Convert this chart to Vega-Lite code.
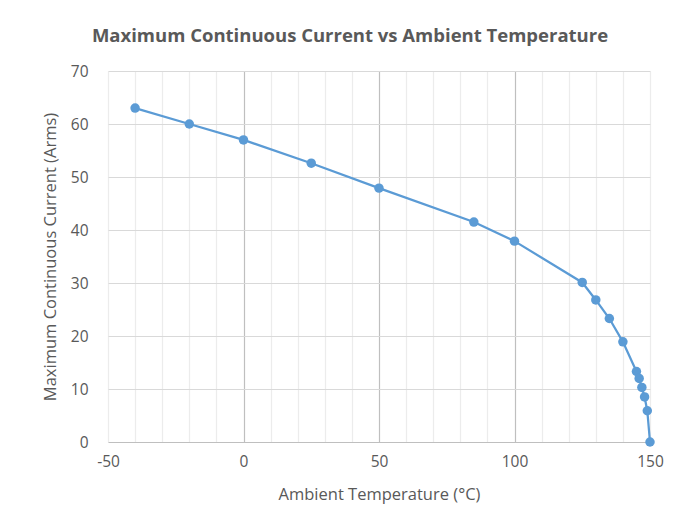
{
  "$schema": "https://vega.github.io/schema/vega-lite/v6.json",
  "width": 542,
  "height": 371,
  "autosize": {"type": "none"},
  "padding": {"left": 108, "top": 71, "right": 36, "bottom": 89},
  "background": "white",
  "title": {
    "text": "Maximum Continuous Current vs Ambient Temperature",
    "font": "Open Sans",
    "fontSize": 18.5,
    "fontWeight": "bold",
    "color": "#595959",
    "anchor": "middle",
    "dx": -29,
    "offset": 19
  },
  "config": {
    "view": {"stroke": null},
    "axis": {
      "labelFont": "Open Sans",
      "titleFont": "Open Sans",
      "labelColor": "#595959",
      "titleColor": "#595959",
      "labelFontSize": 15.5,
      "titleFontSize": 16.5,
      "titleFontWeight": "normal",
      "ticks": false,
      "domain": false
    }
  },
  "data": {
    "values": [
      {"temp": -40, "current": 63.0},
      {"temp": -20, "current": 60.0},
      {"temp": 0, "current": 57.0},
      {"temp": 25, "current": 52.6},
      {"temp": 50, "current": 47.9},
      {"temp": 85, "current": 41.5},
      {"temp": 100, "current": 37.9},
      {"temp": 125, "current": 30.1},
      {"temp": 130, "current": 26.8},
      {"temp": 135, "current": 23.3},
      {"temp": 140, "current": 18.9},
      {"temp": 145, "current": 13.3},
      {"temp": 146, "current": 12.0},
      {"temp": 147, "current": 10.3},
      {"temp": 148, "current": 8.5},
      {"temp": 149, "current": 5.9},
      {"temp": 150, "current": 0}
    ]
  },
  "encoding": {
    "x": {
      "field": "temp",
      "type": "quantitative",
      "scale": {"domain": [-50, 150], "nice": false, "zero": false},
      "axis": {
        "title": "Ambient Temperature (°C)",
        "values": [-50, -40, -30, -20, -10, 0, 10, 20, 30, 40, 50, 60, 70, 80, 90, 100, 110, 120, 130, 140, 150],
        "labelExpr": "datum.value % 50 === 0 ? '' + datum.value : ''",
        "grid": true,
        "gridColor": {"condition": {"test": "datum.value === 0 || datum.value === 50 || datum.value === 100", "value": "#bfbfbf"}, "value": "#ececec"},
        "gridWidth": 1.2,
        "labelPadding": 12,
        "titlePadding": 17,
        "labelFlush": false
      }
    },
    "y": {
      "field": "current",
      "type": "quantitative",
      "scale": {"domain": [0, 70], "nice": false},
      "axis": {
        "title": "Maximum Continuous Current (Arms)",
        "values": [0, 10, 20, 30, 40, 50, 60, 70],
        "grid": true,
        "gridColor": {"condition": {"test": "datum.value === 0", "value": "#bfbfbf"}, "value": "#d9d9d9"},
        "gridWidth": 1.2,
        "labelPadding": 20,
        "titlePadding": 12,
        "labelFlush": false
      }
    }
  },
  "layer": [
    {"mark": {"type": "line", "color": "#5b9bd5", "strokeWidth": 2.25}},
    {"mark": {"type": "point", "filled": true, "opacity": 1, "color": "#5b9bd5", "size": 90}}
  ]
}
